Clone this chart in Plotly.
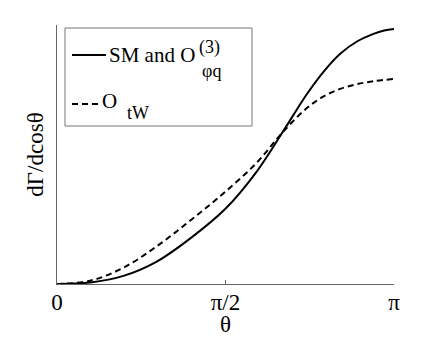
import math
import plotly.graph_objects as go

# ---- data (arbitrary units, SM max = 1) ----
theta_sm = [0, 0.31, 0.62, 0.93, 1.24, 1.57, 1.86, 2.11, 2.33, 2.49, 2.64, 2.80, 2.95, 3.05, math.pi]
rate_sm = [0, 0.006, 0.032, 0.088, 0.178, 0.295, 0.440, 0.600, 0.745, 0.835, 0.903, 0.952, 0.981, 0.994, 1.0]

theta_tw = [0, 0.31, 0.62, 0.93, 1.24, 1.55, 1.86, 2.11, 2.33, 2.49, 2.64, 2.80, 2.95, math.pi]
rate_tw = [0, 0.013, 0.064, 0.148, 0.248, 0.355, 0.475, 0.598, 0.690, 0.737, 0.765, 0.784, 0.795, 0.804]

tick_vals = [0, math.pi / 2, math.pi]
tick_text = ["0", "π/2", "π"]

# page geometry (the browser's default 8px body margin offsets the figure)
OFF = 8
W, H = 436 - OFF, 337 - OFF
X0, X1, Y0, Y1 = 57, 394, 25, 284          # plot area in page pixels
ML, MT = X0 - OFF, Y0 - OFF
MR, MB = W - (X1 - OFF), H - (Y1 - OFF)
PW, PH = X1 - X0, Y1 - Y0
FONT = "Liberation Serif, Times New Roman, DejaVu Serif, serif"
AX = "#666666"


def px(x):
    return (x - X0) / PW


def py(y):
    return (Y1 - y) / PH


fig = go.Figure()
fig.add_trace(go.Scatter(x=theta_sm, y=rate_sm, mode="lines",
                         line=dict(color="black", width=2, shape="spline"),
                         showlegend=False, hoverinfo="skip"))
fig.add_trace(go.Scatter(x=theta_tw, y=rate_tw, mode="lines",
                         line=dict(color="black", width=2, shape="spline", dash="6px,4px"),
                         showlegend=False, hoverinfo="skip"))

# legend box drawn by hand so the stacked super/subscripts can be reproduced
shapes = [
    dict(type="rect", xref="paper", yref="paper", x0=px(65), x1=px(252), y0=py(126), y1=py(28),
         line=dict(color="#777777", width=1), fillcolor="white", layer="below"),
    dict(type="line", xref="paper", yref="paper", x0=px(72), x1=px(106), y0=py(55), y1=py(55),
         line=dict(color="black", width=2)),
    dict(type="line", xref="paper", yref="paper", x0=px(72), x1=px(100), y0=py(104), y1=py(104),
         line=dict(color="black", width=2, dash="6px,4px")),
]

anns = [
    dict(text="SM and O", x=px(107), y=py(55), xanchor="left", yanchor="middle", size=21),
    dict(text="(3)", x=px(209), y=py(47), xanchor="center", yanchor="middle", size=18),
    dict(text="φq", x=px(211), y=py(71), xanchor="center", yanchor="middle", size=18),
    dict(text="O", x=px(100), y=py(101), xanchor="left", yanchor="middle", size=21),
    dict(text="tW", x=px(138), y=py(113), xanchor="center", yanchor="middle", size=18),
]
annotations = [
    dict(text=a["text"], x=a["x"], y=a["y"], xref="paper", yref="paper",
         xanchor=a["xanchor"], yanchor=a["yanchor"], showarrow=False,
         font=dict(family=FONT, size=a["size"], color="black"))
    for a in anns
]

fig.update_layout(
    width=W, height=H,
    margin=dict(l=ML, r=MR, t=MT, b=MB, autoexpand=False),
    paper_bgcolor="white", plot_bgcolor="white",
    shapes=shapes, annotations=annotations,
    font=dict(family=FONT, color="black"),
    xaxis=dict(range=[0, math.pi], tickvals=tick_vals, ticktext=tick_text,
               ticks="inside", ticklen=4, tickcolor=AX, tickwidth=1, ticklabelstandoff=-3,
               showline=True, linecolor=AX, linewidth=1, showgrid=False, zeroline=False,
               tickfont=dict(family=FONT, size=23, color="black"),
               title=dict(text="θ", font=dict(family=FONT, size=23, color="black"), standoff=6),
               automargin=False),
    yaxis=dict(range=[0, 259 / 255], showticklabels=False, ticks="",
               showline=True, linecolor=AX, linewidth=1, showgrid=False, zeroline=False,
               title=dict(text="dΓ/dcosθ", font=dict(family=FONT, size=23, color="black"), standoff=5),
               automargin=False),
)

fig.write_html("out.html")
